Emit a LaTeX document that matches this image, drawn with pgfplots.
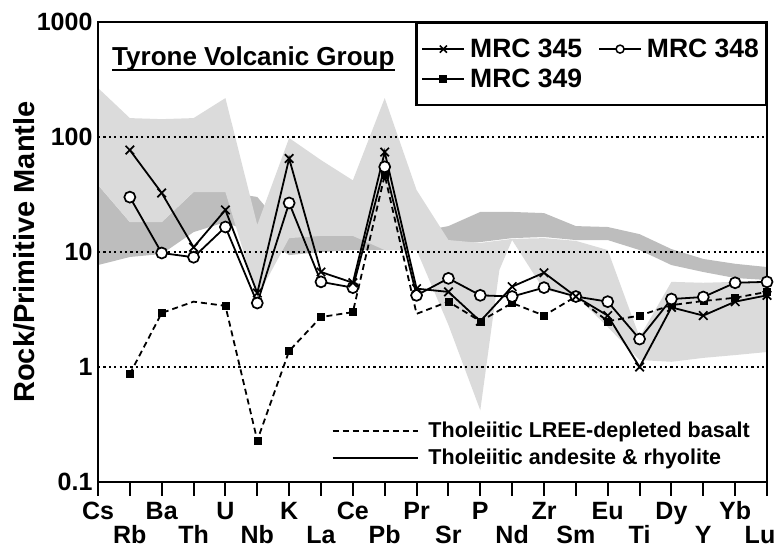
\documentclass[border=0pt]{standalone}
\usepackage{fontspec}
\setmainfont{Liberation Sans}
\usepackage{pgfplots}
\pgfplotsset{compat=1.18}

\definecolor{lightfield}{gray}{0.86}
\definecolor{darkfield}{gray}{0.74}

\pgfplotsset{
  s345/.style={black, line width=1.8pt, mark=x, mark size=6pt, mark options={line width=1.7pt, solid}},
  s348/.style={black, line width=1.8pt, mark=*, mark size=5.5pt, mark options={fill=white, line width=1.7pt, solid}},
  s349/.style={black, line width=1.8pt, dash pattern=on 6pt off 4pt},
}

\begin{document}
\begin{tikzpicture}
\begin{axis}[
  name=ax,
  scale only axis,
  width=669pt, height=460pt,
  ymode=log,
  xmin=0, xmax=21,
  ymin=0.1, ymax=1000,
  axis on top,
  axis line style={line width=2.2pt},
  xtick={0,2,...,20},
  xticklabels={Cs,Ba,U,K,Ce,Pr,P,Zr,Eu,Dy,Yb},
  extra x ticks={1,3,...,21},
  extra x tick labels={Rb,Th,Nb,La,Pb,Sr,Nd,Sm,Ti,Y,\hspace*{-14pt}Lu},
  extra x tick style={xticklabel style={yshift=-24pt}},
  xticklabel style={font=\fontsize{25}{27}\selectfont\bfseries, anchor=north, text height=18pt, text depth=0pt, inner sep=0pt, yshift=-5pt},
  xtick pos=bottom,
  ytick pos=left,
  tick align=outside,
  major tick length=14pt,
  x tick style={line width=2pt, black},
  y tick style={draw=none},
  ytick={0.1,1,10,100,1000},
  yticklabels={0.1,1,10,100,1000},
  yticklabel style={font=\fontsize{25}{27}\selectfont\bfseries, xshift=12pt},
  yminorticks=false,
  ymajorgrids,
  major grid style={line width=2.2pt, dash pattern=on 2.2pt off 3.2pt, black},
  /pgf/number format/assume math mode=true,
  ylabel={Rock/Primitive Mantle},
  ylabel style={font=\fontsize{29}{31}\selectfont\bfseries, at={(axis description cs:-0.11,0.5)}, anchor=center},
  legend columns=2,
  legend style={at={(1,1)}, anchor=north east, draw=black, line width=2.2pt,
    font=\fontsize{26.5}{28}\selectfont\bfseries, inner xsep=5pt, inner ysep=14pt,
    /tikz/every odd column/.append style={column sep=3pt},
    /tikz/every even column/.append style={column sep=14pt}, row sep=6pt},
  legend cell align=left,
  legend image code/.code={\draw[mark repeat=2, mark phase=2, #1] plot coordinates {(0pt,0pt) (21pt,0pt) (42pt,0pt)};},
]
% Dark field (basalt)
\addplot[fill=darkfield, draw=none, forget plot] coordinates {
 (0,38.3) (1,18.2) (2,18.2) (3,33.2) (4,33.2) (5,30.1) (6,14.06) (7,14.6) (8,14.6) (9,14.6)
 (10,14.9) (11,16.8) (12,22.3) (13,22.3) (14,21.8) (15,16.8) (16,16.5) (17,14.3) (18,10.6)
 (19,8.7) (20,7.9) (21,7.4)
 (21,5.71) (20,5.94) (19,6.7) (18,7.7) (17,10.4) (16,12.7) (15,12.7) (14,13.5) (13,13.2)
 (12,12.2) (11,11.7) (10,10.4) (9,10.4) (8,10.4) (7,10) (6,9.4) (5,14.06) (4,18.2) (3,14.9)
 (2,9.6) (1,9.05) (0,7.7)
} -- cycle;
% Light field (andesite & rhyolite)
\addplot[fill=lightfield, draw=none, forget plot] coordinates {
 (0,267) (1,146) (2,143) (3,146) (4,218) (5,17.2) (6,98) (7,63) (8,42) (9,218)
 (10,34.6) (11,12.7) (12,12.0) (13,13.0) (14,13.2) (15,12.5) (16,10.4) (17,1.82) (18,5.5)
 (19,5.4) (20,5.5) (21,5.6)
 (21,1.35) (20,1.27) (19,1.2) (18,1.11) (17,1.15) (16,2.23) (15,4.14) (14,4.67) (13,12.7)
 (12.6,7.0) (12,0.42) (11,2.32) (10,10.4) (9,10.4) (8,13.8) (7,13.8) (6,13.2) (5,4.06)
 (4,33.2) (3,33.2) (2,18.2) (1,18.2) (0,38.3)
} -- cycle;
% MRC 349 (dashed)
\addplot[s349, forget plot] coordinates {
 (1,0.87) (2,2.95) (3,3.7) (4,3.4) (5,0.23) (6,1.38) (7,2.72) (8,3.0) (9,46.6) (10,2.9)
 (11,3.7) (12,2.5) (13,3.6) (14,2.8) (15,4.1) (16,2.5) (17,2.8) (18,3.45) (19,3.75) (20,4.0) (21,4.5)
};
\addplot[black, only marks, mark=square*, mark size=3.5pt, forget plot] coordinates {
 (1,0.87) (2,2.95) (4,3.4) (5,0.23) (6,1.38) (7,2.72) (8,3.0) (9,46.6)
 (11,3.7) (12,2.5) (13,3.6) (14,2.8) (15,4.1) (16,2.5) (17,2.8) (18,3.45) (19,3.75) (20,4.0) (21,4.5)
};
% MRC 348
\addplot[s348, forget plot] coordinates {
 (1,30) (2,9.8) (3,9.0) (4,16.5) (5,3.6) (6,26.7) (7,5.5) (8,4.9) (9,55) (10,4.2)
 (11,5.9) (12,4.2) (13,4.1) (14,4.9) (15,4.1) (16,3.7) (17,1.75) (18,3.9) (19,4.06) (20,5.4) (21,5.5)
};
% MRC 345
\addplot[s345, forget plot] coordinates {
 (1,77) (2,32.6) (3,11) (4,23.2) (5,4.4) (6,65) (7,6.7) (8,5.4) (9,74) (10,4.8)
 (11,4.5) (12,2.5) (13,5.0) (14,6.6) (15,4.1) (16,2.8) (17,1.0) (18,3.3) (19,2.8) (20,3.7) (21,4.2)
};
\addlegendimage{black, line width=1.8pt, mark=x, mark size=5pt, mark options={line width=1.5pt}}
\addlegendentry{MRC 345}
\addlegendimage{black, line width=1.8pt, mark=*, mark size=4pt, mark options={fill=white, line width=1.5pt}}
\addlegendentry{MRC 348}
\addlegendimage{black, line width=1.8pt, mark=square*, mark size=3.2pt}
\addlegendentry{MRC 349}
\node[anchor=base west, inner sep=0pt, font=\fontsize{26}{28}\selectfont\bfseries] (title)
  at (rel axis cs:0.021,0.9065) {Tyrone Volcanic Group};
\draw[line width=1.6pt] ([yshift=-5pt]title.base west) -- ([yshift=-5pt]title.base east);
\end{axis}
\begin{axis}[
  scale only axis,
  width=669pt, height=460pt,
  at={(ax.south west)}, anchor=south west,
  hide axis,
  xmin=0, xmax=1, ymin=0, ymax=1,
  legend style={at={(0.349,0.135)}, anchor=north west, draw=none, fill=none,
    font=\fontsize{21.5}{23}\selectfont\bfseries, inner sep=0pt, row sep=6pt,
    /tikz/every odd column/.append style={column sep=8pt}},
  legend cell align=left,
  legend image code/.code={\draw[#1] (0pt,0pt) -- (85pt,0pt);},
]
\addlegendimage{black, line width=1.8pt, dash pattern=on 6pt off 4pt}
\addlegendentry{Tholeiitic LREE-depleted basalt}
\addlegendimage{black, line width=1.8pt}
\addlegendentry{Tholeiitic andesite \& rhyolite}
\end{axis}
\pgfresetboundingbox
\path ([shift={(-98pt,-75pt)}]ax.south west) rectangle ([shift={(12pt,22pt)}]ax.north east);
\end{tikzpicture}
\end{document}
